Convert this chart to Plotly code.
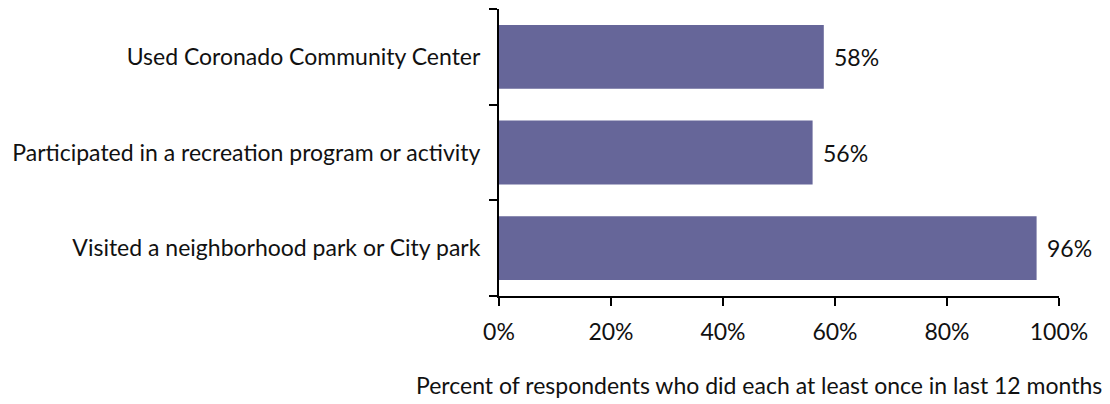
import plotly.graph_objects as go

# Survey items, listed bottom to top
activities = [
    "Visited a neighborhood park or City park",
    "Participated in a recreation program or activity",
    "Used Coronado Community Center",
]
percent_values = [96, 56, 58]
x_tick_values = [0, 20, 40, 60, 80, 100]
x_tick_labels = ["0%", "20%", "40%", "60%", "80%", "100%"]
axis_caption = "Percent of respondents who did each at least once in last 12 months"

FONT = "Lato, 'Open Sans', sans-serif"
FONT_SIZE = 23
TEXT_COLOR = "#111111"
BAR_COLOR = "#666699"

fig = go.Figure(
    go.Bar(
        x=percent_values,
        y=activities,
        orientation="h",
        marker=dict(color=BAR_COLOR, line=dict(width=0)),
        hoverinfo="x+y",
    )
)

# Value labels just past the end of each bar
for name, value in zip(activities, percent_values):
    fig.add_annotation(
        x=value,
        y=name,
        xref="x",
        yref="y",
        text=f"{value}%",
        showarrow=False,
        xanchor="left",
        yanchor="middle",
        xshift=8,
        font=dict(family=FONT, size=FONT_SIZE, color=TEXT_COLOR),
    )

fig.update_layout(
    width=1110,
    height=404,
    margin=dict(l=499, r=51, t=9, b=108),
    paper_bgcolor="white",
    plot_bgcolor="white",
    bargap=0.333,
    showlegend=False,
    font=dict(family=FONT, size=FONT_SIZE, color=TEXT_COLOR),
)

fig.update_xaxes(
    range=[0, 100],
    tickvals=x_tick_values,
    ticktext=x_tick_labels,
    showgrid=False,
    zeroline=False,
    showline=True,
    linecolor="black",
    linewidth=2,
    ticks="outside",
    ticklen=8,
    tickwidth=2,
    tickcolor="black",
    ticklabelstandoff=6,
    tickfont=dict(family=FONT, size=FONT_SIZE, color=TEXT_COLOR),
)

fig.update_yaxes(
    type="category",
    categoryorder="array",
    categoryarray=activities,
    showgrid=False,
    zeroline=False,
    showline=True,
    linecolor="black",
    linewidth=2,
    ticks="outside",
    tickson="boundaries",
    ticklen=8,
    tickwidth=2,
    tickcolor="black",
    ticklabelstandoff=12,
    tickfont=dict(family=FONT, size=FONT_SIZE, color=TEXT_COLOR),
)

fig.add_annotation(
    text=axis_caption,
    xref="paper",
    yref="paper",
    x=0.464,
    y=-0.31,
    xanchor="center",
    yanchor="middle",
    showarrow=False,
    font=dict(family=FONT, size=FONT_SIZE, color=TEXT_COLOR),
)

fig.write_html("out.html")
